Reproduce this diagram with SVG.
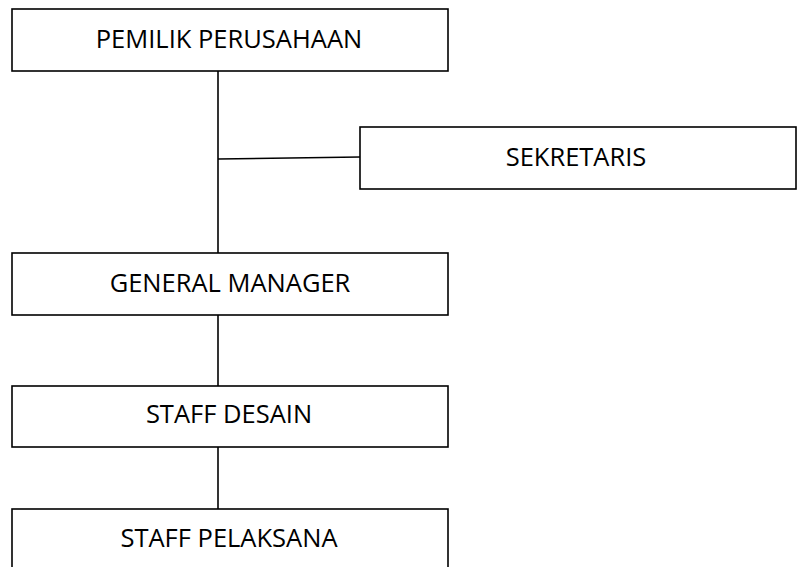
<svg xmlns="http://www.w3.org/2000/svg" width="804" height="567" viewBox="0 0 804 567">
<style>
.box{fill:#fff;stroke:#000;stroke-width:1.6}
.lbl{font-family:"Open Sans","Liberation Sans",sans-serif;font-size:25.5px;fill:#000;text-anchor:middle}
.con{stroke:#000;stroke-width:1.6;fill:none}
</style>
<rect width="804" height="567" fill="#fff"/>
<g id="connectors">
<line class="con" x1="218" y1="71" x2="218" y2="253"/>
<line class="con" x1="218" y1="159" x2="360" y2="157"/>
<line class="con" x1="218" y1="315" x2="218" y2="386"/>
<line class="con" x1="218" y1="447" x2="218" y2="509"/>
</g>
<g id="pemilik">
<rect class="box" x="12" y="9" width="436" height="62"/>
<text class="lbl" x="229" y="48">PEMILIK PERUSAHAAN</text>
</g>
<g id="sekretaris">
<rect class="box" x="360" y="127" width="436" height="62"/>
<text class="lbl" x="576" y="166">SEKRETARIS</text>
</g>
<g id="general-manager">
<rect class="box" x="12" y="253" width="436" height="62"/>
<text class="lbl" x="230" y="292">GENERAL MANAGER</text>
</g>
<g id="staff-desain">
<rect class="box" x="12" y="386" width="436" height="61"/>
<text class="lbl" x="229" y="423">STAFF DESAIN</text>
</g>
<g id="staff-pelaksana">
<rect class="box" x="12" y="509" width="436" height="70"/>
<text class="lbl" x="229" y="547">STAFF PELAKSANA</text>
</g>
</svg>
